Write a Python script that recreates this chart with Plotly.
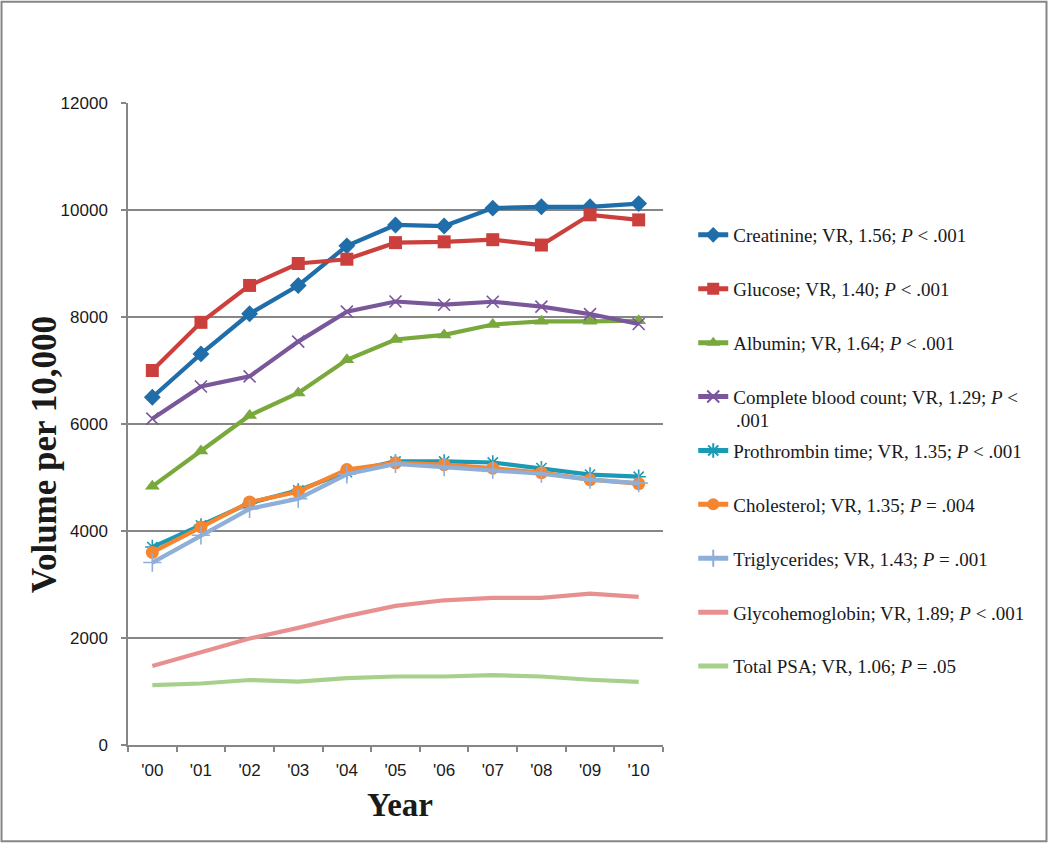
import plotly.graph_objects as go

years = ["'00", "'01", "'02", "'03", "'04", "'05", "'06", "'07", "'08", "'09", "'10"]

creatinine = [6500, 7310, 8060, 8590, 9330, 9720, 9700, 10035, 10060, 10060, 10120]
glucose = [7000, 7900, 8590, 9000, 9080, 9390, 9405, 9445, 9345, 9910, 9815]
albumin = [4835, 5495, 6160, 6580, 7200, 7580, 7665, 7860, 7920, 7920, 7930]
cbc = [6100, 6700, 6890, 7540, 8100, 8290, 8230, 8285, 8195, 8055, 7870]
prothrombin = [3700, 4105, 4520, 4760, 5100, 5300, 5300, 5280, 5175, 5055, 5015]
cholesterol = [3600, 4075, 4540, 4735, 5150, 5275, 5240, 5175, 5090, 4960, 4885]
triglycerides = [3410, 3920, 4415, 4605, 5060, 5255, 5195, 5145, 5070, 4960, 4895]
glycohemoglobin = [1475, 1730, 1990, 2190, 2410, 2600, 2705, 2750, 2750, 2830, 2770]
total_psa = [1120, 1150, 1215, 1185, 1250, 1280, 1280, 1305, 1280, 1220, 1180]

names = [
    "Creatinine; VR, 1.56; <i>P</i> < .001",
    "Glucose; VR, 1.40; <i>P</i> < .001",
    "Albumin; VR, 1.64; <i>P</i> < .001",
    "Complete blood count; VR, 1.29; <i>P</i> <",
    "Prothrombin time; VR, 1.35; <i>P</i> < .001",
    "Cholesterol; VR, 1.35; <i>P</i> = .004",
    "Triglycerides; VR, 1.43; <i>P</i> = .001",
    "Glycohemoglobin; VR, 1.89; <i>P</i> < .001",
    "Total PSA; VR, 1.06; <i>P</i> = .05",
]
series = [creatinine, glucose, albumin, cbc, prothrombin, cholesterol,
          triglycerides, glycohemoglobin, total_psa]
colors = ["#1F6DA9", "#CB403C", "#79A93C", "#7A569B", "#1A9AB4",
          "#F5862F", "#8FAED8", "#E8908F", "#A7D08C"]
symbols = ["diamond", "square", "triangle-up", "x-thin", "asterisk",
           "circle", "cross-thin", None, None]
msizes = [13, 13, 13, 12, 12, 13, 13, 0, 0]

fig = go.Figure()
for i, (nm, ys, c, sym, ms) in enumerate(zip(names, series, colors, symbols, msizes)):
    if sym is None:
        mode = "lines"
        marker = None
    else:
        mode = "lines+markers"
        marker = dict(symbol=sym, size=ms, color=c,
                      line=dict(color=c, width=1.6 if "thin" in sym or sym == "asterisk" else 0))
    fig.add_trace(go.Scatter(
        x=years, y=ys, name=nm, mode=mode,
        line=dict(color=c, width=4.2),
        marker=marker,
        legendgroup=f"g{i}",
    ))

gray = "#868686"
txt = "#1a1a1a"
fig.update_layout(
    width=1050, height=843,
    margin=dict(l=128, r=387, t=103, b=98),
    paper_bgcolor="white", plot_bgcolor="white",
    showlegend=True,
    legend=dict(
        x=1.0565, y=0.824, xanchor="left", yanchor="top",
        font=dict(family="Liberation Serif", size=19, color=txt),
        tracegroupgap=26.2, itemsizing="constant",
        bgcolor="rgba(0,0,0,0)",
    ),
    xaxis=dict(
        type="category", range=[-0.5, 10.5],
        showline=True, linecolor=gray, linewidth=1.5,
        ticks="outside", tickson="boundaries", ticklen=5, tickcolor=gray, tickwidth=1.5,
        showgrid=False, zeroline=False,
        tickfont=dict(family="Liberation Sans", size=17, color=txt),
        ticklabelstandoff=9,
    ),
    yaxis=dict(
        range=[0, 12000], dtick=2000, tick0=0, tickformat="d",
        showline=True, linecolor=gray, linewidth=1.5,
        ticks="outside", ticklen=5, tickcolor=gray, tickwidth=1.5,
        showgrid=True, gridcolor=gray, gridwidth=1.5, zeroline=False,
        tickfont=dict(family="Liberation Sans", size=17, color=txt),
        ticklabelstandoff=10,
    ),
    annotations=[
        dict(text=".001", x=1.1327, y=0.506, xref="paper", yref="paper",
             xanchor="left", yanchor="middle", showarrow=False,
             font=dict(family="Liberation Serif", size=19, color=txt)),
        dict(text="<b>Volume per 10,000</b>", x=-0.157, y=0.4515,
             xref="paper", yref="paper", xanchor="center", yanchor="middle",
             textangle=-90, showarrow=False,
             font=dict(family="Liberation Serif", size=35, color=txt)),
        dict(text="<b>Year</b>", x=0.5075, y=-0.0934,
             xref="paper", yref="paper", xanchor="center", yanchor="middle",
             showarrow=False,
             font=dict(family="Liberation Serif", size=33, color=txt)),
    ],
    shapes=[dict(
        type="rect", xref="paper", yref="paper",
        x0=-0.2364, x1=1.7168, y0=-0.1498, y1=1.1576,
        line=dict(color=gray, width=2), fillcolor="rgba(0,0,0,0)", layer="below",
    )],
)

fig.write_html("out.html", config={"displayModeBar": False},
               post_script="document.body.style.margin='0';")
